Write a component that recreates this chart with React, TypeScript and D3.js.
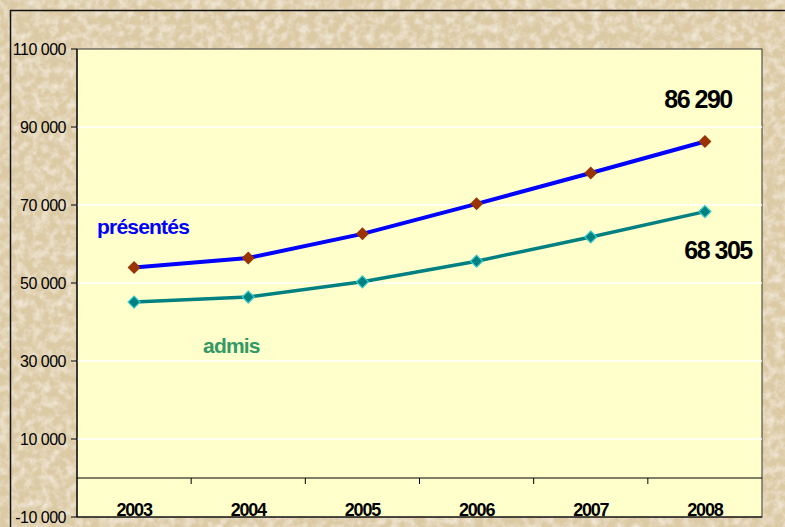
import React from "react";
import * as d3 from "d3";

const years = ["2003", "2004", "2005", "2006", "2007", "2008"];
const presentes = [54000, 56400, 62600, 70300, 78200, 86290];
const admis = [45100, 46400, 50300, 55600, 61800, 68305];
const yTicks = [-10000, 10000, 30000, 50000, 70000, 90000, 110000];

const W = 785, H = 527;
const plot = { left: 77, right: 762, top: 49, bottom: 517 };

const fmt = (v: number) => {
  const s = Math.abs(v).toString().replace(/\B(?=(\d{3})+(?!\d))/g, " ");
  return (v < 0 ? "-" : "") + s;
};

export default function App() {
  const x = d3.scaleBand<string>().domain(years).range([plot.left, plot.right]).padding(0);
  const y = d3.scaleLinear().domain([-10000, 110000]).range([plot.bottom, plot.top]);
  const cx = (d: string) => (x(d) as number) + x.bandwidth() / 2;
  const line = d3.line<number>().x((_, i) => cx(years[i])).y((v) => y(v));
  const diamond = (px: number, py: number, r: number) =>
    `M${px},${py - r}L${px + r},${py}L${px},${py + r}L${px - r},${py}Z`;
  const font = "Arial, 'Liberation Sans', sans-serif";
  const boundaries = years.slice(1).map((d) => x(d) as number);

  return (
    <svg width={W} height={H} style={{ position: "absolute", left: 0, top: 0 }}>
      <defs>
        <filter id="paper" x="0" y="0" width="100%" height="100%">
          <feTurbulence type="fractalNoise" baseFrequency="0.12" numOctaves="4" seed="7" result="n" />
          <feColorMatrix
            in="n"
            type="matrix"
            values="0 0 0 0 0.96  0 0 0 0 0.92  0 0 0 0 0.83  0 0 0 -1.3 0.8"
            result="c"
          />
          <feComposite in="c" in2="SourceGraphic" operator="over" />
        </filter>
      </defs>
      <rect x={0} y={0} width={W} height={H} fill="#E0CFAB" />
      <rect x={0} y={0} width={W} height={H} fill="#DCCAA5" filter="url(#paper)" />
      <line x1={10} x2={W} y1={10.5} y2={10.5} stroke="#111" strokeWidth={1.5} />
      <line x1={10.5} x2={10.5} y1={10} y2={H} stroke="#111" strokeWidth={1.5} />

      <rect
        x={plot.left}
        y={plot.top}
        width={plot.right - plot.left}
        height={plot.bottom - plot.top}
        fill="#FFFFCC"
        stroke="#333"
        strokeWidth={1}
      />
      {yTicks.slice(1, -1).map((t) => (
        <line key={t} x1={plot.left} x2={plot.right} y1={y(t)} y2={y(t)} stroke="#FFFFFF" strokeWidth={1.5} />
      ))}
      <line x1={plot.left} x2={plot.right} y1={y(0)} y2={y(0)} stroke="#000" strokeWidth={1.2} />
      {boundaries.map((b) => (
        <line key={b} x1={b} x2={b} y1={y(0)} y2={y(0) + 6} stroke="#000" strokeWidth={1} />
      ))}
      <line x1={plot.left} x2={plot.left} y1={plot.top} y2={plot.bottom} stroke="#000" strokeWidth={1.2} />
      <line x1={plot.left} x2={plot.right} y1={plot.bottom} y2={plot.bottom} stroke="#000" strokeWidth={1.2} />
      {yTicks.map((t) => (
        <g key={t}>
          <line x1={plot.left - 6} x2={plot.left} y1={y(t)} y2={y(t)} stroke="#000" strokeWidth={1} />
          <text
            x={plot.left - 11}
            y={y(t)}
            dy="0.36em"
            textAnchor="end"
            fontFamily={font}
            fontSize={16}
            fill="#000"
            letterSpacing={-0.5}
          >
            {fmt(t)}
          </text>
        </g>
      ))}
      {years.map((yr) => (
        <text
          key={yr}
          x={cx(yr)}
          y={plot.bottom - 1}
          textAnchor="middle"
          fontFamily={font}
          fontSize={18}
          fontWeight="bold"
          fill="#000"
          letterSpacing={-1.2}
        >
          {yr}
        </text>
      ))}

      <path d={line(admis) || ""} fill="none" stroke="#008080" strokeWidth={3.5} />
      <path d={line(presentes) || ""} fill="none" stroke="#0000FF" strokeWidth={4} />
      {admis.map((v, i) => (
        <path key={"a" + i} d={diamond(cx(years[i]), y(v), 6)} fill="#008080" stroke="#33CCCC" strokeWidth={1.2} />
      ))}
      {presentes.map((v, i) => (
        <path key={"p" + i} d={diamond(cx(years[i]), y(v), 6.5)} fill="#993300" />
      ))}

      <text x={97} y={234} fontFamily={font} fontSize={21} fontWeight="bold" fill="#0000FF" letterSpacing={-0.8}>
        présentés
      </text>
      <text x={203} y={353} fontFamily={font} fontSize={21} fontWeight="bold" fill="#339966" letterSpacing={-0.8}>
        admis
      </text>
      <text x={698} y={108} textAnchor="middle" fontFamily={font} fontSize={25} fontWeight="bold" fill="#000" letterSpacing={-1.5}>
        {fmt(presentes[5])}
      </text>
      <text x={718} y={259} textAnchor="middle" fontFamily={font} fontSize={25} fontWeight="bold" fill="#000" letterSpacing={-1.5}>
        {fmt(admis[5])}
      </text>
    </svg>
  );
}
